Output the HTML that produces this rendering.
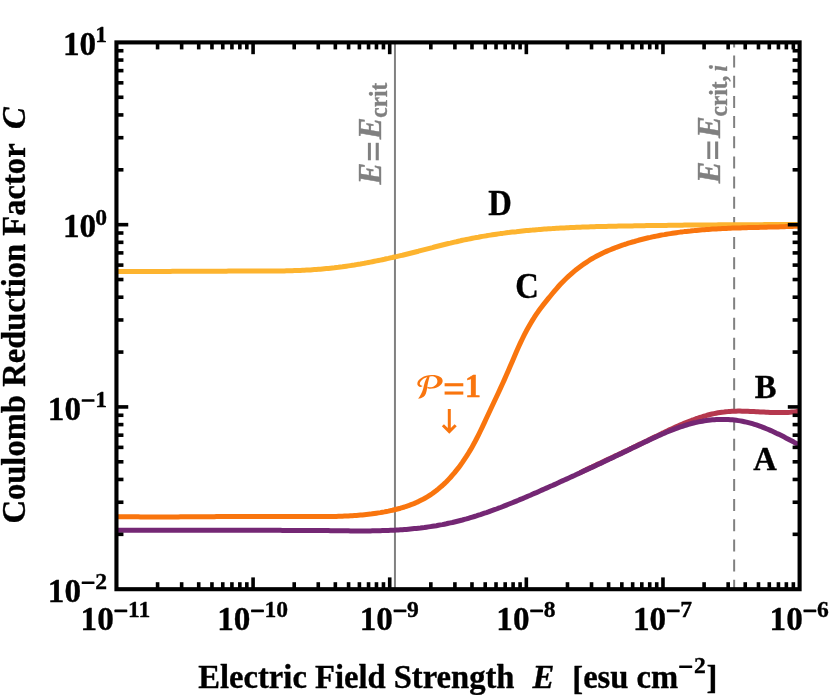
<!DOCTYPE html>
<html><head><meta charset="utf-8"><title>Coulomb Reduction Factor</title>
<style>
html,body{margin:0;padding:0;background:#fff;}
body{width:830px;height:695px;overflow:hidden;}
svg{display:block;will-change:transform;}
text{font-family:"Liberation Serif",serif;font-size:32.6px;fill:#000;stroke:#000;stroke-width:0.35px;stroke-linejoin:round;}
.b{font-weight:bold;}
.bi{font-weight:bold;font-style:italic;}
.sup{font-size:22.4px;}
.sub{font-size:23.3px;}
.t{font-size:33.2px;}
.tsup{font-size:23.6px;}
text.g{fill:#808080;stroke:#808080;}
text.o{fill:#F9750E;stroke:#F9750E;}
</style></head><body>
<svg width="830" height="695" viewBox="0 0 830 695">
<rect width="830" height="695" fill="#fff"/>
<defs><clipPath id="cp"><rect x="116.45" y="42.40" width="683.15" height="546.80"/></clipPath></defs>
<g clip-path="url(#cp)" fill="none" stroke-linejoin="round">
<line x1="394.95" y1="42.40" x2="394.95" y2="589.20" stroke="#808080" stroke-width="2"/>
<line x1="734.15" y1="35.44" x2="734.15" y2="589.20" stroke="#808080" stroke-width="2" stroke-dasharray="12 8.16"/>
<path d="M116.4 271.4 L118.4 271.4 L120.4 271.4 L122.4 271.4 L124.4 271.4 L126.4 271.4 L128.4 271.4 L130.4 271.4 L132.4 271.4 L134.4 271.4 L136.4 271.4 L138.4 271.4 L140.4 271.4 L142.4 271.4 L144.4 271.4 L146.4 271.4 L148.4 271.4 L150.4 271.4 L152.4 271.4 L154.4 271.4 L156.4 271.4 L158.4 271.4 L160.4 271.4 L162.4 271.4 L164.4 271.4 L166.4 271.4 L168.4 271.4 L170.4 271.4 L172.4 271.3 L174.4 271.3 L176.4 271.3 L178.4 271.3 L180.4 271.3 L182.4 271.3 L184.4 271.3 L186.4 271.3 L188.4 271.3 L190.4 271.3 L192.4 271.3 L194.4 271.3 L196.4 271.3 L198.4 271.3 L200.4 271.2 L202.4 271.2 L204.4 271.2 L206.4 271.2 L208.4 271.2 L210.4 271.2 L212.4 271.2 L214.4 271.2 L216.4 271.2 L218.4 271.2 L220.4 271.2 L222.4 271.2 L224.4 271.2 L226.4 271.2 L228.4 271.1 L230.4 271.1 L232.4 271.1 L234.4 271.1 L236.4 271.1 L238.4 271.1 L240.4 271.1 L242.4 271.1 L244.4 271.1 L246.4 271.1 L248.4 271.1 L250.4 271.1 L252.4 271.1 L254.4 271.1 L256.4 271.1 L258.4 271.1 L260.4 271.1 L262.4 271.1 L264.4 271.1 L266.4 271.1 L268.4 271.0 L270.4 271.0 L272.4 271.0 L274.4 271.0 L276.4 271.0 L278.4 270.9 L280.4 270.9 L282.4 270.9 L284.4 270.9 L286.4 270.8 L288.4 270.8 L290.4 270.7 L292.4 270.7 L294.4 270.6 L296.4 270.5 L298.4 270.5 L300.4 270.4 L302.4 270.3 L304.4 270.2 L306.4 270.1 L308.4 270.0 L310.4 269.9 L312.4 269.7 L314.4 269.6 L316.4 269.5 L318.4 269.3 L320.4 269.2 L322.4 269.0 L324.4 268.8 L326.4 268.6 L328.4 268.4 L330.4 268.2 L332.4 268.0 L334.4 267.8 L336.4 267.5 L338.4 267.3 L340.4 267.0 L342.4 266.8 L344.4 266.5 L346.4 266.2 L348.4 265.9 L350.4 265.6 L352.4 265.3 L354.4 265.0 L356.4 264.6 L358.4 264.3 L360.4 264.0 L362.4 263.6 L364.4 263.3 L366.4 262.9 L368.4 262.5 L370.4 262.1 L372.4 261.7 L374.4 261.3 L376.4 260.9 L378.4 260.5 L380.4 260.1 L382.4 259.7 L384.4 259.3 L386.4 258.8 L388.4 258.4 L390.4 257.9 L392.4 257.5 L394.4 257.0 L396.4 256.6 L398.4 256.1 L400.4 255.6 L402.4 255.2 L404.4 254.7 L406.4 254.2 L408.4 253.7 L410.4 253.2 L412.4 252.7 L414.4 252.2 L416.4 251.7 L418.4 251.2 L420.4 250.6 L422.4 250.1 L424.4 249.6 L426.4 249.1 L428.4 248.6 L430.4 248.1 L432.4 247.6 L434.4 247.0 L436.4 246.5 L438.4 246.0 L440.4 245.5 L442.4 245.0 L444.4 244.5 L446.4 244.0 L448.4 243.5 L450.4 243.1 L452.4 242.6 L454.4 242.1 L456.4 241.7 L458.4 241.2 L460.4 240.8 L462.4 240.3 L464.4 239.9 L466.4 239.5 L468.4 239.1 L470.4 238.7 L472.4 238.3 L474.4 237.9 L476.4 237.5 L478.4 237.2 L480.4 236.8 L482.4 236.4 L484.4 236.1 L486.4 235.8 L488.4 235.4 L490.4 235.1 L492.4 234.8 L494.4 234.5 L496.4 234.2 L498.4 233.9 L500.4 233.6 L502.4 233.4 L504.4 233.1 L506.4 232.8 L508.4 232.6 L510.4 232.3 L512.4 232.1 L514.4 231.9 L516.4 231.7 L518.4 231.4 L520.4 231.2 L522.4 231.0 L524.4 230.8 L526.4 230.6 L528.4 230.4 L530.4 230.2 L532.4 230.1 L534.4 229.9 L536.4 229.7 L538.4 229.6 L540.4 229.4 L542.4 229.2 L544.4 229.1 L546.4 229.0 L548.4 228.8 L550.4 228.7 L552.4 228.6 L554.4 228.4 L556.4 228.3 L558.4 228.2 L560.4 228.1 L562.4 228.0 L564.4 227.9 L566.4 227.8 L568.4 227.7 L570.4 227.6 L572.4 227.5 L574.4 227.4 L576.4 227.3 L578.4 227.2 L580.4 227.2 L582.4 227.1 L584.4 227.0 L586.4 227.0 L588.4 226.9 L590.4 226.8 L592.4 226.8 L594.4 226.7 L596.4 226.6 L598.4 226.6 L600.4 226.5 L602.4 226.5 L604.4 226.4 L606.4 226.4 L608.4 226.3 L610.4 226.3 L612.4 226.3 L614.4 226.2 L616.4 226.2 L618.4 226.1 L620.4 226.1 L622.4 226.1 L624.4 226.0 L626.4 226.0 L628.4 226.0 L630.4 225.9 L632.4 225.9 L634.4 225.8 L636.4 225.8 L638.4 225.8 L640.4 225.7 L642.4 225.7 L644.4 225.7 L646.4 225.6 L648.4 225.6 L650.4 225.6 L652.4 225.6 L654.4 225.5 L656.4 225.5 L658.4 225.5 L660.4 225.4 L662.4 225.4 L664.4 225.4 L666.4 225.4 L668.4 225.3 L670.4 225.3 L672.4 225.3 L674.4 225.3 L676.4 225.2 L678.4 225.2 L680.4 225.2 L682.4 225.2 L684.4 225.1 L686.4 225.1 L688.4 225.1 L690.4 225.1 L692.4 225.1 L694.4 225.0 L696.4 225.0 L698.4 225.0 L700.4 225.0 L702.4 225.0 L704.4 225.0 L706.4 224.9 L708.4 224.9 L710.4 224.9 L712.4 224.9 L714.4 224.9 L716.4 224.9 L718.4 224.8 L720.4 224.8 L722.4 224.8 L724.4 224.8 L726.4 224.8 L728.4 224.8 L730.4 224.8 L732.4 224.8 L734.4 224.7 L736.4 224.7 L738.4 224.7 L740.4 224.7 L742.4 224.7 L744.4 224.7 L746.4 224.7 L748.4 224.7 L750.4 224.7 L752.4 224.7 L754.4 224.7 L756.4 224.7 L758.4 224.7 L760.4 224.7 L762.4 224.7 L764.4 224.6 L766.4 224.6 L768.4 224.6 L770.4 224.6 L772.4 224.6 L774.4 224.6 L776.4 224.6 L778.4 224.6 L780.4 224.6 L782.4 224.6 L784.4 224.6 L786.4 224.6 L788.4 224.6 L790.4 224.6 L792.4 224.6 L794.4 224.6 L796.4 224.6 L798.4 224.7 L800.0 224.7" stroke="#FDB42F" stroke-width="5"/>
<path d="M116.4 516.7 L118.4 516.7 L120.4 516.7 L122.4 516.7 L124.4 516.7 L126.4 516.8 L128.4 516.8 L130.4 516.8 L132.4 516.8 L134.4 516.8 L136.4 516.8 L138.4 516.8 L140.4 516.9 L142.4 516.9 L144.4 516.9 L146.4 516.9 L148.4 516.9 L150.4 516.9 L152.4 516.9 L154.4 516.9 L156.4 516.9 L158.4 516.9 L160.4 516.9 L162.4 516.9 L164.4 516.9 L166.4 516.9 L168.4 516.9 L170.4 516.9 L172.4 516.9 L174.4 516.9 L176.4 516.9 L178.4 516.9 L180.4 516.8 L182.4 516.8 L184.4 516.8 L186.4 516.8 L188.4 516.8 L190.4 516.8 L192.4 516.8 L194.4 516.8 L196.4 516.8 L198.4 516.8 L200.4 516.7 L202.4 516.7 L204.4 516.7 L206.4 516.7 L208.4 516.7 L210.4 516.7 L212.4 516.7 L214.4 516.7 L216.4 516.6 L218.4 516.6 L220.4 516.6 L222.4 516.6 L224.4 516.6 L226.4 516.6 L228.4 516.6 L230.4 516.6 L232.4 516.6 L234.4 516.5 L236.4 516.5 L238.4 516.5 L240.4 516.5 L242.4 516.5 L244.4 516.5 L246.4 516.5 L248.4 516.5 L250.4 516.5 L252.4 516.5 L254.4 516.4 L256.4 516.4 L258.4 516.4 L260.4 516.4 L262.4 516.4 L264.4 516.4 L266.4 516.4 L268.4 516.4 L270.4 516.4 L272.4 516.4 L274.4 516.4 L276.4 516.4 L278.4 516.4 L280.4 516.4 L282.4 516.4 L284.4 516.4 L286.4 516.4 L288.4 516.4 L290.4 516.4 L292.4 516.4 L294.4 516.4 L296.4 516.5 L298.4 516.5 L300.4 516.5 L302.4 516.5 L304.4 516.5 L306.4 516.5 L308.4 516.5 L310.4 516.5 L312.4 516.6 L314.4 516.6 L316.4 516.6 L318.4 516.6 L320.4 516.6 L322.4 516.6 L324.4 516.6 L326.4 516.6 L328.4 516.5 L330.4 516.5 L332.4 516.5 L334.4 516.4 L336.4 516.4 L338.4 516.3 L340.4 516.3 L342.4 516.2 L344.4 516.1 L346.4 516.1 L348.4 516.0 L350.4 515.8 L352.4 515.7 L354.4 515.6 L356.4 515.5 L358.4 515.3 L360.4 515.1 L362.4 514.9 L364.4 514.7 L366.4 514.5 L368.4 514.3 L370.4 514.1 L372.4 513.8 L374.4 513.5 L376.4 513.2 L378.4 512.9 L380.4 512.6 L382.4 512.2 L384.4 511.9 L386.4 511.5 L388.4 511.1 L390.4 510.6 L392.4 510.2 L394.4 509.7 L396.4 509.2 L398.4 508.7 L400.4 508.2 L402.4 507.6 L404.4 507.0 L406.4 506.3 L408.4 505.7 L410.4 504.9 L412.4 504.2 L414.4 503.4 L416.4 502.5 L418.4 501.6 L420.4 500.6 L422.4 499.6 L424.4 498.5 L426.4 497.3 L428.4 496.1 L430.4 494.8 L432.4 493.5 L434.4 492.0 L436.4 490.5 L438.4 488.9 L440.4 487.2 L442.4 485.5 L444.4 483.6 L446.4 481.7 L448.4 479.6 L450.4 477.5 L452.4 475.2 L454.4 472.9 L456.4 470.4 L458.4 467.9 L460.4 465.2 L462.4 462.4 L464.4 459.4 L466.4 456.4 L468.4 453.2 L470.4 449.9 L472.4 446.4 L474.4 442.8 L476.4 439.0 L478.4 435.1 L480.4 431.0 L482.4 426.9 L484.4 422.6 L486.4 418.3 L488.4 414.0 L490.4 409.7 L492.4 405.5 L494.4 401.2 L496.4 397.0 L498.4 392.7 L500.4 388.4 L502.4 384.0 L504.4 379.6 L506.4 375.1 L508.4 370.5 L510.4 365.8 L512.4 361.2 L514.4 356.5 L516.4 351.8 L518.4 347.3 L520.4 342.9 L522.4 338.7 L524.4 334.7 L526.4 330.8 L528.4 327.2 L530.4 323.7 L532.4 320.4 L534.4 317.2 L536.4 314.2 L538.4 311.3 L540.4 308.6 L542.4 305.9 L544.4 303.4 L546.4 300.9 L548.4 298.4 L550.4 296.0 L552.4 293.5 L554.4 291.1 L556.4 288.8 L558.4 286.5 L560.4 284.3 L562.4 282.2 L564.4 280.2 L566.4 278.3 L568.4 276.4 L570.4 274.6 L572.4 272.8 L574.4 271.1 L576.4 269.5 L578.4 268.0 L580.4 266.5 L582.4 265.0 L584.4 263.6 L586.4 262.3 L588.4 261.0 L590.4 259.7 L592.4 258.5 L594.4 257.4 L596.4 256.3 L598.4 255.2 L600.4 254.2 L602.4 253.2 L604.4 252.3 L606.4 251.4 L608.4 250.5 L610.4 249.7 L612.4 248.9 L614.4 248.1 L616.4 247.3 L618.4 246.6 L620.4 245.9 L622.4 245.2 L624.4 244.5 L626.4 243.9 L628.4 243.2 L630.4 242.6 L632.4 242.0 L634.4 241.5 L636.4 240.9 L638.4 240.3 L640.4 239.8 L642.4 239.3 L644.4 238.8 L646.4 238.3 L648.4 237.8 L650.4 237.4 L652.4 236.9 L654.4 236.5 L656.4 236.1 L658.4 235.7 L660.4 235.3 L662.4 234.9 L664.4 234.6 L666.4 234.2 L668.4 233.9 L670.4 233.6 L672.4 233.3 L674.4 233.0 L676.4 232.7 L678.4 232.4 L680.4 232.1 L682.4 231.9 L684.4 231.6 L686.4 231.4 L688.4 231.2 L690.4 231.0 L692.4 230.7 L694.4 230.6 L696.4 230.4 L698.4 230.2 L700.4 230.0 L702.4 229.8 L704.4 229.7 L706.4 229.5 L708.4 229.4 L710.4 229.3 L712.4 229.1 L714.4 229.0 L716.4 228.9 L718.4 228.8 L720.4 228.7 L722.4 228.6 L724.4 228.5 L726.4 228.4 L728.4 228.3 L730.4 228.2 L732.4 228.1 L734.4 228.1 L736.4 228.0 L738.4 227.9 L740.4 227.9 L742.4 227.8 L744.4 227.7 L746.4 227.7 L748.4 227.6 L750.4 227.6 L752.4 227.5 L754.4 227.5 L756.4 227.4 L758.4 227.4 L760.4 227.3 L762.4 227.3 L764.4 227.2 L766.4 227.2 L768.4 227.1 L770.4 227.1 L772.4 227.0 L774.4 227.0 L776.4 226.9 L778.4 226.9 L780.4 226.8 L782.4 226.8 L784.4 226.7 L786.4 226.6 L788.4 226.6 L790.4 226.5 L792.4 226.4 L794.4 226.3 L796.4 226.3 L798.4 226.2 L800.0 226.1" stroke="#F9750E" stroke-width="5"/>
<path d="M580.0 472.6 L582.0 471.7 L584.0 470.7 L586.0 469.8 L588.0 468.8 L590.0 467.9 L592.0 467.0 L594.0 466.0 L596.0 465.1 L598.0 464.1 L600.0 463.2 L602.0 462.2 L604.0 461.3 L606.0 460.3 L608.0 459.4 L610.0 458.5 L612.0 457.5 L614.0 456.6 L616.0 455.6 L618.0 454.7 L620.0 453.7 L622.0 452.8 L624.0 451.8 L626.0 450.9 L628.0 449.9 L630.0 448.9 L632.0 448.0 L634.0 447.0 L636.0 446.1 L638.0 445.1 L640.0 444.1 L642.0 443.2 L644.0 442.2 L646.0 441.2 L648.0 440.3 L650.0 439.3 L652.0 438.3 L654.0 437.3 L656.0 436.4 L658.0 435.4 L660.0 434.4 L662.0 433.4 L664.0 432.5 L666.0 431.5 L668.0 430.6 L670.0 429.6 L672.0 428.7 L674.0 427.8 L676.0 426.9 L678.0 426.0 L680.0 425.1 L682.0 424.2 L684.0 423.4 L686.0 422.6 L688.0 421.8 L690.0 421.0 L692.0 420.2 L694.0 419.5 L696.0 418.7 L698.0 418.1 L700.0 417.4 L702.0 416.8 L704.0 416.1 L706.0 415.6 L708.0 415.0 L710.0 414.5 L712.0 414.0 L714.0 413.6 L716.0 413.2 L718.0 412.8 L720.0 412.5 L722.0 412.2 L724.0 412.0 L726.0 411.7 L728.0 411.6 L730.0 411.4 L732.0 411.3 L734.0 411.2 L736.0 411.2 L738.0 411.1 L740.0 411.1 L742.0 411.2 L744.0 411.2 L746.0 411.2 L748.0 411.3 L750.0 411.4 L752.0 411.5 L754.0 411.6 L756.0 411.7 L758.0 411.8 L760.0 411.9 L762.0 412.0 L764.0 412.1 L766.0 412.2 L768.0 412.3 L770.0 412.4 L772.0 412.5 L774.0 412.5 L776.0 412.6 L778.0 412.6 L780.0 412.6 L782.0 412.6 L784.0 412.6 L786.0 412.5 L788.0 412.4 L790.0 412.3 L792.0 412.1 L794.0 411.9 L796.0 411.6 L798.0 411.3 L800.0 410.9" stroke="#B5384E" stroke-width="5"/>
<path d="M116.4 530.2 L118.4 530.2 L120.4 530.2 L122.4 530.2 L124.4 530.2 L126.4 530.2 L128.4 530.2 L130.4 530.2 L132.4 530.2 L134.4 530.2 L136.4 530.2 L138.4 530.2 L140.4 530.2 L142.4 530.2 L144.4 530.2 L146.4 530.2 L148.4 530.2 L150.4 530.2 L152.4 530.2 L154.4 530.2 L156.4 530.2 L158.4 530.2 L160.4 530.2 L162.4 530.2 L164.4 530.2 L166.4 530.2 L168.4 530.2 L170.4 530.2 L172.4 530.2 L174.4 530.2 L176.4 530.2 L178.4 530.2 L180.4 530.2 L182.4 530.2 L184.4 530.2 L186.4 530.2 L188.4 530.2 L190.4 530.2 L192.4 530.2 L194.4 530.2 L196.4 530.2 L198.4 530.2 L200.4 530.2 L202.4 530.2 L204.4 530.2 L206.4 530.2 L208.4 530.2 L210.4 530.2 L212.4 530.2 L214.4 530.2 L216.4 530.2 L218.4 530.2 L220.4 530.2 L222.4 530.2 L224.4 530.2 L226.4 530.2 L228.4 530.2 L230.4 530.2 L232.4 530.2 L234.4 530.2 L236.4 530.2 L238.4 530.2 L240.4 530.2 L242.4 530.2 L244.4 530.3 L246.4 530.3 L248.4 530.3 L250.4 530.3 L252.4 530.3 L254.4 530.3 L256.4 530.3 L258.4 530.3 L260.4 530.3 L262.4 530.3 L264.4 530.3 L266.4 530.3 L268.4 530.3 L270.4 530.3 L272.4 530.3 L274.4 530.3 L276.4 530.3 L278.4 530.3 L280.4 530.3 L282.4 530.4 L284.4 530.4 L286.4 530.4 L288.4 530.4 L290.4 530.4 L292.4 530.4 L294.4 530.4 L296.4 530.4 L298.4 530.4 L300.4 530.4 L302.4 530.5 L304.4 530.5 L306.4 530.5 L308.4 530.5 L310.4 530.5 L312.4 530.5 L314.4 530.5 L316.4 530.5 L318.4 530.6 L320.4 530.6 L322.4 530.6 L324.4 530.6 L326.4 530.6 L328.4 530.6 L330.4 530.7 L332.4 530.7 L334.4 530.7 L336.4 530.7 L338.4 530.7 L340.4 530.8 L342.4 530.8 L344.4 530.8 L346.4 530.8 L348.4 530.8 L350.4 530.9 L352.4 530.9 L354.4 530.9 L356.4 530.9 L358.4 530.9 L360.4 530.9 L362.4 530.9 L364.4 530.9 L366.4 530.9 L368.4 530.9 L370.4 530.9 L372.4 530.8 L374.4 530.8 L376.4 530.8 L378.4 530.7 L380.4 530.7 L382.4 530.6 L384.4 530.6 L386.4 530.5 L388.4 530.4 L390.4 530.3 L392.4 530.3 L394.4 530.2 L396.4 530.0 L398.4 529.9 L400.4 529.8 L402.4 529.7 L404.4 529.5 L406.4 529.4 L408.4 529.2 L410.4 529.0 L412.4 528.8 L414.4 528.6 L416.4 528.4 L418.4 528.2 L420.4 528.0 L422.4 527.7 L424.4 527.5 L426.4 527.2 L428.4 526.9 L430.4 526.6 L432.4 526.3 L434.4 526.0 L436.4 525.7 L438.4 525.3 L440.4 524.9 L442.4 524.6 L444.4 524.2 L446.4 523.8 L448.4 523.3 L450.4 522.9 L452.4 522.5 L454.4 522.0 L456.4 521.5 L458.4 521.0 L460.4 520.5 L462.4 520.0 L464.4 519.4 L466.4 518.9 L468.4 518.3 L470.4 517.7 L472.4 517.1 L474.4 516.5 L476.4 515.9 L478.4 515.2 L480.4 514.6 L482.4 513.9 L484.4 513.2 L486.4 512.6 L488.4 511.9 L490.4 511.1 L492.4 510.4 L494.4 509.7 L496.4 509.0 L498.4 508.2 L500.4 507.5 L502.4 506.7 L504.4 505.9 L506.4 505.1 L508.4 504.3 L510.4 503.5 L512.4 502.7 L514.4 501.9 L516.4 501.1 L518.4 500.3 L520.4 499.4 L522.4 498.6 L524.4 497.7 L526.4 496.9 L528.4 496.0 L530.4 495.2 L532.4 494.3 L534.4 493.4 L536.4 492.6 L538.4 491.7 L540.4 490.8 L542.4 489.9 L544.4 489.0 L546.4 488.1 L548.4 487.2 L550.4 486.3 L552.4 485.5 L554.4 484.6 L556.4 483.7 L558.4 482.8 L560.4 481.8 L562.4 480.9 L564.4 480.0 L566.4 479.1 L568.4 478.2 L570.4 477.3 L572.4 476.4 L574.4 475.5 L576.4 474.5 L578.4 473.6 L580.4 472.7 L582.4 471.8 L584.4 470.8 L586.4 469.9 L588.4 469.0 L590.4 468.0 L592.4 467.1 L594.4 466.2 L596.4 465.2 L598.4 464.3 L600.4 463.4 L602.4 462.4 L604.4 461.5 L606.4 460.5 L608.4 459.6 L610.4 458.6 L612.4 457.7 L614.4 456.7 L616.4 455.8 L618.4 454.8 L620.4 453.9 L622.4 452.9 L624.4 452.0 L626.4 451.0 L628.4 450.0 L630.4 449.1 L632.4 448.1 L634.4 447.1 L636.4 446.2 L638.4 445.2 L640.4 444.2 L642.4 443.3 L644.4 442.3 L646.4 441.4 L648.4 440.4 L650.4 439.5 L652.4 438.5 L654.4 437.6 L656.4 436.7 L658.4 435.8 L660.4 434.9 L662.4 434.0 L664.4 433.2 L666.4 432.3 L668.4 431.5 L670.4 430.7 L672.4 429.9 L674.4 429.1 L676.4 428.4 L678.4 427.6 L680.4 426.9 L682.4 426.3 L684.4 425.6 L686.4 425.0 L688.4 424.4 L690.4 423.8 L692.4 423.3 L694.4 422.8 L696.4 422.4 L698.4 421.9 L700.4 421.5 L702.4 421.2 L704.4 420.8 L706.4 420.5 L708.4 420.3 L710.4 420.0 L712.4 419.8 L714.4 419.7 L716.4 419.5 L718.4 419.5 L720.4 419.4 L722.4 419.4 L724.4 419.4 L726.4 419.5 L728.4 419.5 L730.4 419.7 L732.4 419.8 L734.4 420.0 L736.4 420.3 L738.4 420.6 L740.4 420.9 L742.4 421.3 L744.4 421.7 L746.4 422.1 L748.4 422.6 L750.4 423.1 L752.4 423.7 L754.4 424.3 L756.4 424.9 L758.4 425.6 L760.4 426.3 L762.4 427.1 L764.4 427.9 L766.4 428.7 L768.4 429.5 L770.4 430.4 L772.4 431.3 L774.4 432.2 L776.4 433.2 L778.4 434.1 L780.4 435.1 L782.4 436.1 L784.4 437.1 L786.4 438.2 L788.4 439.2 L790.4 440.3 L792.4 441.3 L794.4 442.4 L796.4 443.4 L798.4 444.5 L800.0 445.4" stroke="#742774" stroke-width="5"/>
</g>
<g fill="#000"><rect x="155.78" y="582.20" width="3.60" height="7.00"/><rect x="155.78" y="42.40" width="3.60" height="7.00"/><rect x="179.84" y="582.20" width="3.60" height="7.00"/><rect x="179.84" y="42.40" width="3.60" height="7.00"/><rect x="196.91" y="582.20" width="3.60" height="7.00"/><rect x="196.91" y="42.40" width="3.60" height="7.00"/><rect x="210.15" y="582.20" width="3.60" height="7.00"/><rect x="210.15" y="42.40" width="3.60" height="7.00"/><rect x="220.97" y="582.20" width="3.60" height="7.00"/><rect x="220.97" y="42.40" width="3.60" height="7.00"/><rect x="230.12" y="582.20" width="3.60" height="7.00"/><rect x="230.12" y="42.40" width="3.60" height="7.00"/><rect x="238.04" y="582.20" width="3.60" height="7.00"/><rect x="238.04" y="42.40" width="3.60" height="7.00"/><rect x="245.03" y="582.20" width="3.60" height="7.00"/><rect x="245.03" y="42.40" width="3.60" height="7.00"/><rect x="251.28" y="577.40" width="3.60" height="11.80"/><rect x="251.28" y="42.40" width="3.60" height="11.80"/><rect x="292.41" y="582.20" width="3.60" height="7.00"/><rect x="292.41" y="42.40" width="3.60" height="7.00"/><rect x="316.47" y="582.20" width="3.60" height="7.00"/><rect x="316.47" y="42.40" width="3.60" height="7.00"/><rect x="333.54" y="582.20" width="3.60" height="7.00"/><rect x="333.54" y="42.40" width="3.60" height="7.00"/><rect x="346.78" y="582.20" width="3.60" height="7.00"/><rect x="346.78" y="42.40" width="3.60" height="7.00"/><rect x="357.60" y="582.20" width="3.60" height="7.00"/><rect x="357.60" y="42.40" width="3.60" height="7.00"/><rect x="366.75" y="582.20" width="3.60" height="7.00"/><rect x="366.75" y="42.40" width="3.60" height="7.00"/><rect x="374.67" y="582.20" width="3.60" height="7.00"/><rect x="374.67" y="42.40" width="3.60" height="7.00"/><rect x="381.66" y="582.20" width="3.60" height="7.00"/><rect x="381.66" y="42.40" width="3.60" height="7.00"/><rect x="387.91" y="577.40" width="3.60" height="11.80"/><rect x="387.91" y="42.40" width="3.60" height="11.80"/><rect x="429.04" y="582.20" width="3.60" height="7.00"/><rect x="429.04" y="42.40" width="3.60" height="7.00"/><rect x="453.10" y="582.20" width="3.60" height="7.00"/><rect x="453.10" y="42.40" width="3.60" height="7.00"/><rect x="470.17" y="582.20" width="3.60" height="7.00"/><rect x="470.17" y="42.40" width="3.60" height="7.00"/><rect x="483.41" y="582.20" width="3.60" height="7.00"/><rect x="483.41" y="42.40" width="3.60" height="7.00"/><rect x="494.23" y="582.20" width="3.60" height="7.00"/><rect x="494.23" y="42.40" width="3.60" height="7.00"/><rect x="503.38" y="582.20" width="3.60" height="7.00"/><rect x="503.38" y="42.40" width="3.60" height="7.00"/><rect x="511.30" y="582.20" width="3.60" height="7.00"/><rect x="511.30" y="42.40" width="3.60" height="7.00"/><rect x="518.29" y="582.20" width="3.60" height="7.00"/><rect x="518.29" y="42.40" width="3.60" height="7.00"/><rect x="524.54" y="577.40" width="3.60" height="11.80"/><rect x="524.54" y="42.40" width="3.60" height="11.80"/><rect x="565.67" y="582.20" width="3.60" height="7.00"/><rect x="565.67" y="42.40" width="3.60" height="7.00"/><rect x="589.73" y="582.20" width="3.60" height="7.00"/><rect x="589.73" y="42.40" width="3.60" height="7.00"/><rect x="606.80" y="582.20" width="3.60" height="7.00"/><rect x="606.80" y="42.40" width="3.60" height="7.00"/><rect x="620.04" y="582.20" width="3.60" height="7.00"/><rect x="620.04" y="42.40" width="3.60" height="7.00"/><rect x="630.86" y="582.20" width="3.60" height="7.00"/><rect x="630.86" y="42.40" width="3.60" height="7.00"/><rect x="640.01" y="582.20" width="3.60" height="7.00"/><rect x="640.01" y="42.40" width="3.60" height="7.00"/><rect x="647.93" y="582.20" width="3.60" height="7.00"/><rect x="647.93" y="42.40" width="3.60" height="7.00"/><rect x="654.92" y="582.20" width="3.60" height="7.00"/><rect x="654.92" y="42.40" width="3.60" height="7.00"/><rect x="661.17" y="577.40" width="3.60" height="11.80"/><rect x="661.17" y="42.40" width="3.60" height="11.80"/><rect x="702.30" y="582.20" width="3.60" height="7.00"/><rect x="702.30" y="42.40" width="3.60" height="7.00"/><rect x="726.36" y="582.20" width="3.60" height="7.00"/><rect x="726.36" y="42.40" width="3.60" height="7.00"/><rect x="743.43" y="582.20" width="3.60" height="7.00"/><rect x="743.43" y="42.40" width="3.60" height="7.00"/><rect x="756.67" y="582.20" width="3.60" height="7.00"/><rect x="756.67" y="42.40" width="3.60" height="7.00"/><rect x="767.49" y="582.20" width="3.60" height="7.00"/><rect x="767.49" y="42.40" width="3.60" height="7.00"/><rect x="776.64" y="582.20" width="3.60" height="7.00"/><rect x="776.64" y="42.40" width="3.60" height="7.00"/><rect x="784.56" y="582.20" width="3.60" height="7.00"/><rect x="784.56" y="42.40" width="3.60" height="7.00"/><rect x="791.55" y="582.20" width="3.60" height="7.00"/><rect x="791.55" y="42.40" width="3.60" height="7.00"/><rect x="116.45" y="532.53" width="7.00" height="3.60"/><rect x="792.60" y="532.53" width="7.00" height="3.60"/><rect x="116.45" y="500.44" width="7.00" height="3.60"/><rect x="792.60" y="500.44" width="7.00" height="3.60"/><rect x="116.45" y="477.66" width="7.00" height="3.60"/><rect x="792.60" y="477.66" width="7.00" height="3.60"/><rect x="116.45" y="460.00" width="7.00" height="3.60"/><rect x="792.60" y="460.00" width="7.00" height="3.60"/><rect x="116.45" y="445.57" width="7.00" height="3.60"/><rect x="792.60" y="445.57" width="7.00" height="3.60"/><rect x="116.45" y="433.37" width="7.00" height="3.60"/><rect x="792.60" y="433.37" width="7.00" height="3.60"/><rect x="116.45" y="422.80" width="7.00" height="3.60"/><rect x="792.60" y="422.80" width="7.00" height="3.60"/><rect x="116.45" y="413.47" width="7.00" height="3.60"/><rect x="792.60" y="413.47" width="7.00" height="3.60"/><rect x="116.45" y="405.13" width="11.80" height="3.60"/><rect x="787.80" y="405.13" width="11.80" height="3.60"/><rect x="116.45" y="350.27" width="7.00" height="3.60"/><rect x="792.60" y="350.27" width="7.00" height="3.60"/><rect x="116.45" y="318.17" width="7.00" height="3.60"/><rect x="792.60" y="318.17" width="7.00" height="3.60"/><rect x="116.45" y="295.40" width="7.00" height="3.60"/><rect x="792.60" y="295.40" width="7.00" height="3.60"/><rect x="116.45" y="277.73" width="7.00" height="3.60"/><rect x="792.60" y="277.73" width="7.00" height="3.60"/><rect x="116.45" y="263.30" width="7.00" height="3.60"/><rect x="792.60" y="263.30" width="7.00" height="3.60"/><rect x="116.45" y="251.10" width="7.00" height="3.60"/><rect x="792.60" y="251.10" width="7.00" height="3.60"/><rect x="116.45" y="240.53" width="7.00" height="3.60"/><rect x="792.60" y="240.53" width="7.00" height="3.60"/><rect x="116.45" y="231.21" width="7.00" height="3.60"/><rect x="792.60" y="231.21" width="7.00" height="3.60"/><rect x="116.45" y="222.87" width="11.80" height="3.60"/><rect x="787.80" y="222.87" width="11.80" height="3.60"/><rect x="116.45" y="168.00" width="7.00" height="3.60"/><rect x="792.60" y="168.00" width="7.00" height="3.60"/><rect x="116.45" y="135.90" width="7.00" height="3.60"/><rect x="792.60" y="135.90" width="7.00" height="3.60"/><rect x="116.45" y="113.13" width="7.00" height="3.60"/><rect x="792.60" y="113.13" width="7.00" height="3.60"/><rect x="116.45" y="95.47" width="7.00" height="3.60"/><rect x="792.60" y="95.47" width="7.00" height="3.60"/><rect x="116.45" y="81.04" width="7.00" height="3.60"/><rect x="792.60" y="81.04" width="7.00" height="3.60"/><rect x="116.45" y="68.83" width="7.00" height="3.60"/><rect x="792.60" y="68.83" width="7.00" height="3.60"/><rect x="116.45" y="58.26" width="7.00" height="3.60"/><rect x="792.60" y="58.26" width="7.00" height="3.60"/><rect x="116.45" y="48.94" width="7.00" height="3.60"/><rect x="792.60" y="48.94" width="7.00" height="3.60"/></g>
<rect x="116.45" y="42.40" width="683.15" height="546.80" fill="none" stroke="#000" stroke-width="4.1"/>
<text transform="translate(80.55 630.00) scale(1 1.02)" class="b t">10</text><rect x="114.45" y="609.60" width="12.8" height="2.7" rx="0.6" fill="#000"/><text transform="translate(127.95 617.40) scale(1 0.97)" class="b tsup">11</text><text transform="translate(217.18 630.00) scale(1 1.02)" class="b t">10</text><rect x="251.08" y="609.60" width="12.8" height="2.7" rx="0.6" fill="#000"/><text transform="translate(264.58 617.40) scale(1 0.97)" class="b tsup">10</text><text transform="translate(359.71 630.00) scale(1 1.02)" class="b t">10</text><rect x="393.61" y="609.60" width="12.8" height="2.7" rx="0.6" fill="#000"/><text transform="translate(407.11 617.40) scale(1 0.97)" class="b tsup">9</text><text transform="translate(496.34 630.00) scale(1 1.02)" class="b t">10</text><rect x="530.24" y="609.60" width="12.8" height="2.7" rx="0.6" fill="#000"/><text transform="translate(543.74 617.40) scale(1 0.97)" class="b tsup">8</text><text transform="translate(632.97 630.00) scale(1 1.02)" class="b t">10</text><rect x="666.87" y="609.60" width="12.8" height="2.7" rx="0.6" fill="#000"/><text transform="translate(680.37 617.40) scale(1 0.97)" class="b tsup">7</text><text transform="translate(769.60 630.00) scale(1 1.02)" class="b t">10</text><rect x="803.50" y="609.60" width="12.8" height="2.7" rx="0.6" fill="#000"/><text transform="translate(817.00 617.40) scale(1 0.97)" class="b tsup">6</text>
<text transform="translate(63.00 55.00) scale(1 1.02)" class="b t">10</text><text transform="translate(95.20 42.40) scale(1 0.97)" class="b tsup">1</text><text transform="translate(63.00 237.27) scale(1 1.02)" class="b t">10</text><text transform="translate(95.20 224.67) scale(1 0.97)" class="b tsup">0</text><text transform="translate(47.80 419.53) scale(1 1.02)" class="b t">10</text><rect x="81.70" y="399.13" width="12.8" height="2.7" rx="0.6" fill="#000"/><text transform="translate(95.20 406.93) scale(1 0.97)" class="b tsup">1</text><text transform="translate(47.80 601.80) scale(1 1.02)" class="b t">10</text><rect x="81.70" y="581.40" width="12.8" height="2.7" rx="0.6" fill="#000"/><text transform="translate(95.20 589.20) scale(1 0.97)" class="b tsup">2</text>
<text transform="translate(198.30 687.50) scale(1 1.06)" class="b">Electric Field Strength</text><text transform="translate(532.50 687.50) scale(1 1.06)" class="bi">E</text><text transform="translate(572.30 689.50) scale(1 1.06)" class="b">[</text><text transform="translate(583.16 687.50) scale(1 1.06)" class="b">esu cm</text><rect x="679.2" y="665.45" width="13.0" height="2.5" rx="0.5" fill="#000"/><text x="693.90" y="672.90" class="b tsup">2</text><text transform="translate(706.40 689.30) scale(1 1.06)" class="b">]</text>
<g transform="translate(24.8,523.6) rotate(-90)"><text transform="translate(0.00 0.00) scale(1 1.04)" class="b">Coulomb Reduction Factor</text><text transform="translate(394.60 0.00) scale(1 1.04)" class="bi">C</text></g>
<g transform="translate(380.80,184.50) rotate(-90)" fill="#808080"><text transform="translate(0.00 0.00) scale(1 1.04)" class="bi g">E</text><rect x="24.2" y="-12.9" width="17.5" height="3.0"/><rect x="24.2" y="-5.1" width="17.5" height="3.1"/><text transform="translate(45.30 0.00) scale(1 1.04)" class="bi g">E</text><text transform="translate(66.80 6.60) scale(1 1.04)" class="b sub g">crit</text></g>
<g transform="translate(720.20,183.20) rotate(-90)" fill="#808080"><text transform="translate(0.00 0.00) scale(1 1.04)" class="bi g">E</text><rect x="24.2" y="-12.9" width="17.5" height="3.0"/><rect x="24.2" y="-5.1" width="17.5" height="3.1"/><text transform="translate(45.30 0.00) scale(1 1.04)" class="bi g">E</text><text transform="translate(66.80 6.60) scale(1 1.04)" class="b sub g">crit,</text><text transform="translate(111.60 6.60) scale(1 1.04)" class="bi sub g">i</text></g>
<text transform="translate(488.30 215.20) scale(1 1.07)" class="b">D</text><text transform="translate(515.30 298.40) scale(1 1.07)" class="b">C</text><text transform="translate(754.80 397.50) scale(1 1.05)" class="b">B</text><text transform="translate(753.30 470.20) scale(1 1.05)" class="b">A</text>
<g fill="#F9750E"><path transform="translate(412 368) scale(0.051813)" fill="#F9750E" fill-rule="nonzero" d="M345 150 C320 230 300 320 290 400 C280 470 260 530 225 555 C190 580 150 590 118 592 C160 540 195 470 215 400 C235 320 250 230 300 165 Z M172 368 C125 365 98 335 103 295 C112 215 230 135 380 133 C510 131 594 180 592 250 C590 335 470 402 340 400 L296 392 L302 362 C330 372 350 373 370 370 C440 360 492 310 490 250 C488 195 440 160 380 160 C270 160 160 235 150 300 C147 325 170 340 205 345 Z"/><rect x="444.6" y="383.2" width="18.7" height="3.1"/><rect x="444.6" y="391.5" width="18.7" height="3.1"/><text transform="translate(464.80 397.30) scale(1 1.05)" class="b o">1</text><path d="M449.3 408.9 V431.0 M442.9 425.2 L449.3 431.6 L455.7 425.2" fill="none" stroke="#F9750E" stroke-width="3"/></g>
</svg>
</body></html>
